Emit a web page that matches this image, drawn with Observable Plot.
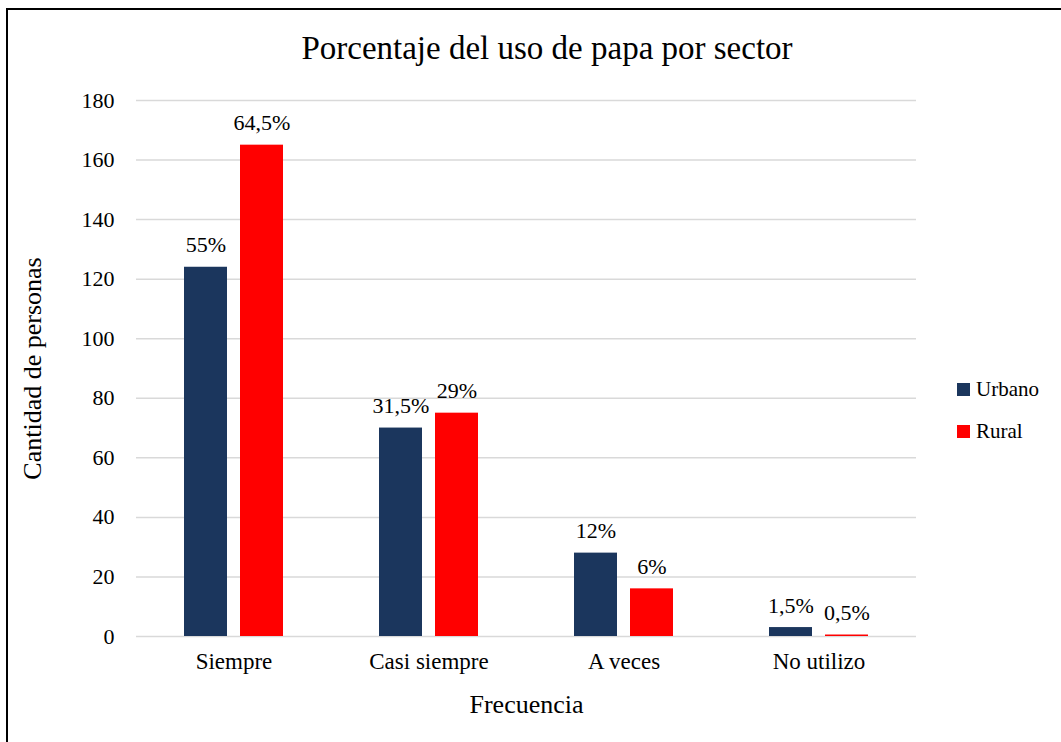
<!DOCTYPE html>
<html>
<head>
<meta charset="utf-8">
<script src="https://cdn.jsdelivr.net/npm/d3@7"></script>
<script src="https://cdn.jsdelivr.net/npm/@observablehq/plot@0.6"></script>
<style>
  body { margin: 0; background: #fff; font-family: "Liberation Serif", "Times New Roman", serif; }
  #wrap { position: relative; width: 1061px; height: 742px; overflow: hidden; }
  #frame { position: absolute; left: 6px; top: 8px; width: 1200px; height: 900px; border: 2px solid #000; box-sizing: border-box; }
  #title { position: absolute; left: 0; top: 28px; width: 1094px; text-align: center; font-family: "Liberation Serif", serif; font-size: 33px; line-height: 40px; color: #000; }
  #chart { position: absolute; left: 0; top: 0; }
  #chart svg, #chart svg text { font-family: "Liberation Serif", serif !important; }
  #legend { position: absolute; left: 957px; top: 376px; font-family: "Liberation Serif", serif; font-size: 21px; color: #000; }
  .item { display: flex; align-items: center; height: 26px; margin-bottom: 16px; }
  .sw { width: 13px; height: 13px; margin-right: 6px; }
  g[aria-label="y-axis label"] text, g[aria-label="fx-axis label"] text { font-size: 26px; }
  g[aria-label="fx-axis tick label"] text { font-size: 23px; }
</style>
</head>
<body>
<div id="wrap">
  <div id="frame"></div>
  <div id="chart"></div>
  <div id="title">Porcentaje del uso de papa por sector</div>
  <div id="legend"></div>
</div>
<script>
const categories = ["Siempre", "Casi siempre", "A veces", "No utilizo"];
const series = ["Urbano", "Rural"];
const urbanoValues = [124, 70, 28, 3];
const ruralValues = [165, 75, 16, 0.5];
const urbanoLabels = ["55%", "31,5%", "12%", "1,5%"];
const ruralLabels = ["64,5%", "29%", "6%", "0,5%"];
const yTicks = [0, 20, 40, 60, 80, 100, 120, 140, 160, 180];
const seriesColors = ["#1b365d", "#ff0000"];

const data = [];
categories.forEach((c, i) => {
  data.push({cat: c, series: "Urbano", value: urbanoValues[i], label: urbanoLabels[i]});
  data.push({cat: c, series: "Rural", value: ruralValues[i], label: ruralLabels[i]});
});

const chart = Plot.plot({
  width: 1061,
  height: 742,
  marginLeft: 136,
  marginRight: 145,
  marginTop: 100,
  marginBottom: 106,
  style: {fontFamily: "Liberation Serif, serif", fontSize: "22px", color: "#000", background: "transparent", overflow: "visible"},
  fx: {domain: categories, padding: 0},
  x: {domain: series, paddingInner: 13 / 56, paddingOuter: 48 / 56, axis: null},
  y: {domain: [0, 180]},
  color: {domain: series, range: seriesColors},
  marks: [
    Plot.gridY(yTicks, {stroke: "#d9d9d9", strokeOpacity: 1, strokeWidth: 1.5}),
    Plot.axisY(yTicks, {tickSize: 0, tickPadding: 22, label: "Cantidad de personas", labelAnchor: "center", labelArrow: "none", labelOffset: 114}),
    Plot.barY(data, {fx: "cat", x: "series", y: "value", fill: "series"}),
    Plot.text(data, {fx: "cat", x: "series", y: "value", text: "label", dy: -22, fill: "#000"}),
    Plot.axisFx({anchor: "bottom", tickSize: 0, tickPadding: 16, label: "Frecuencia", labelAnchor: "center", labelArrow: "none", labelOffset: 76})
  ]
});
document.getElementById("chart").appendChild(chart);

const legend = document.getElementById("legend");
series.forEach((s, i) => {
  const item = document.createElement("div");
  item.className = "item";
  const sw = document.createElement("span");
  sw.className = "sw";
  sw.style.background = seriesColors[i];
  const t = document.createElement("span");
  t.textContent = s;
  item.appendChild(sw);
  item.appendChild(t);
  legend.appendChild(item);
});
</script>
</body>
</html>
